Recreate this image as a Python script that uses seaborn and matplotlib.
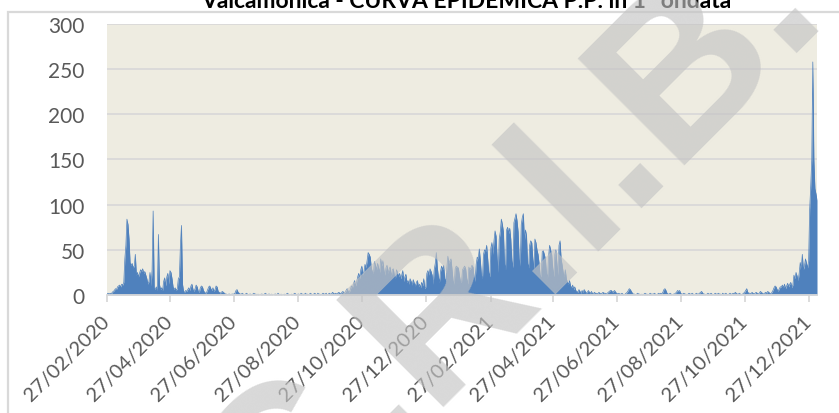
import pandas as pd
import matplotlib
matplotlib.use("Agg")
import matplotlib.pyplot as plt
from matplotlib.patches import Rectangle
import seaborn as sns

# casi giornalieri, un elenco per mese
v2020_02 = [1, 2, 1]
v2020_03 = [2, 1, 3, 4, 5, 7, 6, 9, 10, 11, 9, 12, 11, 14, 40, 55, 84, 78, 62, 36,
            33, 35, 30, 32, 45, 22, 25, 20, 24, 28, 26]
v2020_04 = [29, 24, 26, 22, 18, 12, 15, 25, 10, 28, 93, 8, 6, 9, 5, 67, 12, 6, 8, 5,
            15, 19, 10, 20, 24, 12, 27, 25, 18, 9]
v2020_05 = [6, 8, 5, 7, 18, 20, 55, 77, 12, 4, 3, 5, 4, 6, 8, 5, 10, 12, 6, 4,
            7, 11, 9, 4, 3, 8, 10, 9, 5, 3, 2]
v2020_06 = [3, 6, 9, 10, 7, 5, 8, 4, 6, 10, 9, 4, 3, 2, 3, 4, 3, 2, 1, 1,
            0, 1, 1, 0, 1, 1, 1, 2, 5, 6]
v2020_07 = [3, 2, 1, 1, 2, 1, 0, 1, 2, 1, 0, 1, 1, 0, 1, 2, 1, 1, 0, 1,
            0, 0, 1, 1, 0, 1, 2, 1, 0, 1, 1]
v2020_08 = [0, 1, 0, 0, 1, 1, 0, 2, 1, 0, 1, 0, 0, 1, 0, 1, 2, 1, 0, 0,
            1, 0, 1, 2, 1, 0, 1, 1, 0, 2, 1]
v2020_09 = [1, 0, 2, 1, 1, 0, 1, 2, 1, 0, 1, 2, 1, 0, 2, 1, 1, 0, 1, 2,
            1, 1, 2, 0, 1, 2, 1, 1, 3, 2]
v2020_10 = [1, 2, 1, 2, 3, 2, 1, 3, 4, 2, 3, 5, 7, 4, 3, 6, 10, 8, 12, 16,
            10, 14, 20, 24, 18, 28, 32, 22, 26, 34, 30]
v2020_11 = [38, 47, 45, 42, 30, 26, 24, 37, 33, 28, 35, 30, 25, 40, 32, 38, 28, 22, 30, 33,
            24, 29, 31, 20, 28, 29, 22, 18, 28, 25]
v2020_12 = [20, 24, 18, 22, 27, 15, 20, 23, 14, 16, 12, 18, 15, 11, 17, 13, 10, 14, 16, 9,
            12, 8, 14, 10, 18, 7, 9, 24, 27, 22, 29]
v2021_01 = [26, 22, 12, 28, 35, 47, 30, 20, 14, 26, 32, 28, 33, 18, 15, 30, 43, 35, 38, 40,
            28, 16, 12, 29, 32, 31, 30, 22, 15, 14, 28]
v2021_02 = [30, 32, 29, 18, 12, 31, 28, 30, 33, 31, 20, 15, 34, 42, 40, 51, 38, 22, 18, 45,
            50, 48, 55, 40, 25, 20, 52, 58]
v2021_03 = [45, 60, 71, 65, 40, 25, 62, 70, 84, 78, 70, 35, 28, 72, 75, 68, 74, 62, 38, 30,
            80, 85, 90, 82, 70, 40, 32, 78, 86, 90, 60]
v2021_04 = [72, 66, 35, 30, 55, 60, 58, 40, 28, 62, 58, 50, 45, 35, 22, 20, 48, 49, 45, 40,
            25, 18, 42, 55, 50, 45, 30, 20, 45, 50]
v2021_05 = [35, 22, 55, 60, 40, 33, 25, 20, 28, 18, 14, 12, 16, 10, 8, 11, 6, 9, 5, 4,
            3, 6, 4, 2, 5, 3, 6, 4, 2, 3, 5]
v2021_06 = [3, 2, 4, 1, 2, 3, 1, 2, 1, 3, 2, 1, 2, 3, 2, 2, 1, 2, 3, 4,
            5, 5, 3, 4, 5, 3, 2, 1, 2, 1]
v2021_07 = [1, 2, 1, 0, 1, 2, 3, 5, 7, 6, 4, 2, 1, 1, 0, 1, 2, 1, 1, 0,
            1, 0, 1, 2, 1, 1, 0, 1, 2, 1, 1]
v2021_08 = [1, 2, 1, 0, 1, 2, 1, 2, 1, 3, 6, 7, 5, 2, 1, 1, 2, 1, 0, 1,
            1, 2, 3, 5, 4, 5, 2, 1, 1, 2, 1]
v2021_09 = [1, 0, 1, 2, 1, 1, 2, 1, 0, 1, 2, 1, 1, 2, 3, 4, 2, 1, 1, 0,
            1, 2, 1, 1, 2, 1, 0, 1, 2, 1]
v2021_10 = [1, 2, 1, 1, 0, 2, 1, 1, 2, 1, 0, 1, 2, 1, 1, 2, 1, 3, 2, 1,
            1, 2, 1, 0, 1, 2, 3, 5, 7, 3, 2]
v2021_11 = [2, 1, 3, 2, 1, 2, 3, 2, 1, 2, 4, 3, 2, 1, 2, 3, 2, 4, 3, 2,
            1, 3, 5, 8, 10, 9, 6, 4, 7, 9]
v2021_12 = [9, 11, 8, 12, 7, 10, 13, 9, 12, 14, 8, 11, 22, 18, 25, 21, 16, 24, 36, 30,
            45, 28, 32, 40, 35, 30, 38, 95, 120, 150, 258]
v2022_01 = [150, 118, 112, 105]

tick_labels = ["27/02/2020", "27/04/2020", "27/06/2020", "27/08/2020", "27/10/2020",
               "27/12/2020", "27/02/2021", "27/04/2021", "27/06/2021", "27/08/2021",
               "27/10/2021", "27/12/2021"]
y_ticks = [0, 50, 100, 150, 200, 250, 300]

title = "Valcamonica - CURVA EPIDEMICA P.P. in 1° ondata"

months = [("2020-02-27", v2020_02), ("2020-03-01", v2020_03), ("2020-04-01", v2020_04),
          ("2020-05-01", v2020_05), ("2020-06-01", v2020_06), ("2020-07-01", v2020_07),
          ("2020-08-01", v2020_08), ("2020-09-01", v2020_09), ("2020-10-01", v2020_10),
          ("2020-11-01", v2020_11), ("2020-12-01", v2020_12), ("2021-01-01", v2021_01),
          ("2021-02-01", v2021_02), ("2021-03-01", v2021_03), ("2021-04-01", v2021_04),
          ("2021-05-01", v2021_05), ("2021-06-01", v2021_06), ("2021-07-01", v2021_07),
          ("2021-08-01", v2021_08), ("2021-09-01", v2021_09), ("2021-10-01", v2021_10),
          ("2021-11-01", v2021_11), ("2021-12-01", v2021_12), ("2022-01-01", v2022_01)]

parts = []
for start, vals in months:
    parts.append(pd.DataFrame({"data": pd.date_range(start, periods=len(vals), freq="D"),
                               "casi": vals}))
df = pd.concat(parts, ignore_index=True)

sns.set_theme(style="white")
plt.rcParams["font.family"] = ["Lato", "DejaVu Sans"]

fig = plt.figure(figsize=(8.39, 4.14), dpi=100)
ax = fig.add_axes([107 / 839, 1 - 296 / 414, 710 / 839, 271 / 414])
ax.set_facecolor("#EEECE1")

ax.fill_between(df["data"], df["casi"], color="#4F81BD", lw=0, zorder=2)
sns.lineplot(data=df, x="data", y="casi", ax=ax, color="#4F81BD", lw=0.5, zorder=2)

ax.set_xlim(df["data"].iloc[0], df["data"].iloc[-1])
ax.set_ylim(0, 300)
ax.set_yticks(y_ticks)
ax.yaxis.grid(True, color="#D9D9D9", lw=1.3)
ax.set_axisbelow(True)
ax.set_xlabel("")
ax.set_ylabel("")

tick_dates = pd.to_datetime(tick_labels, format="%d/%m/%Y")
ax.set_xticks(tick_dates)
ax.set_xticklabels(tick_labels, rotation=45, ha="right", va="center",
                   rotation_mode="anchor")
ax.tick_params(axis="x", bottom=True, length=5, width=1.3, color="#D9D9D9",
               pad=12, labelsize=14.5, labelcolor="#595959")
ax.tick_params(axis="y", length=0, pad=16, labelsize=15, labelcolor="#595959")

for side in ["left", "right", "top"]:
    ax.spines[side].set_visible(False)
ax.spines["bottom"].set_color("#D9D9D9")
ax.spines["bottom"].set_linewidth(1.3)

# cornice del grafico
fig.patches.append(Rectangle((8 / 839, -0.1), 1.2, 1.1 - 13 / 414,
                             transform=fig.transFigure, fill=False,
                             ec="#D9D9D9", lw=1.6))

fig.text(466 / 839, 1 - 8 / 414, title, ha="center", va="baseline",
         fontsize=16.5, fontweight="bold", color="black")

# filigrana
fig.text(276 / 839, 1 - 566 / 414, "C.R.I.B.", rotation=45, rotation_mode="anchor",
         ha="left", va="baseline", fontsize=158, fontweight="bold",
         family="Liberation Sans", color="#C4C4C4", alpha=0.65, zorder=5)

fig.savefig("out.png", dpi=100)
